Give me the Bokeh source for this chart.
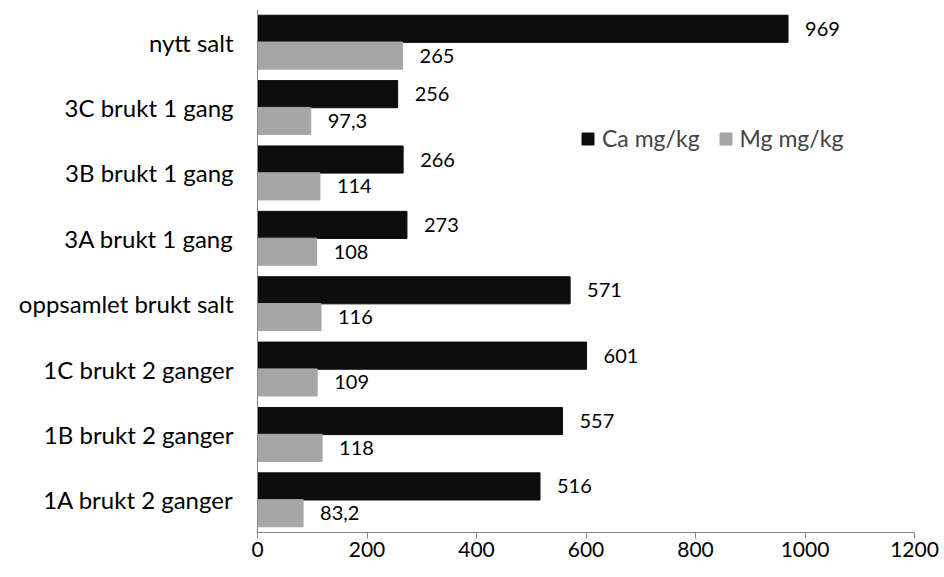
from bokeh.plotting import figure
from bokeh.models import ColumnDataSource, FactorRange, Legend, LegendItem, FixedTicker
from bokeh.transform import dodge
from bokeh.core.properties import value
from bokeh.embed import file_html
from bokeh.resources import INLINE

categories = ["1A brukt 2 ganger", "1B brukt 2 ganger", "1C brukt 2 ganger",
              "oppsamlet brukt salt", "3A brukt 1 gang", "3B brukt 1 gang",
              "3C brukt 1 gang", "nytt salt"]
ca = [516, 557, 601, 571, 273, 266, 256, 969]
mg = [83.2, 118, 109, 116, 108, 114, 97.3, 265]
x_ticks = [0, 200, 400, 600, 800, 1000, 1200]

def fmt(v):
    return f"{v:g}".replace(".", ",")

src = ColumnDataSource(dict(cat=categories, ca=ca, mg=mg,
                            ca_lbl=[fmt(v) for v in ca],
                            mg_lbl=[fmt(v) for v in mg]))

FONT = "Lato"
p = figure(width=940, height=570, y_range=FactorRange(factors=categories),
           x_range=(0, 1200), output_backend="svg", toolbar_location=None,
           min_border_left=257, min_border_right=26, min_border_top=9,
           min_border_bottom=38)
p.outline_line_color = None
p.xgrid.visible = False
p.ygrid.visible = False

CA_COL = "#0d0d0d"
MG_COL = "#a6a6a6"
H = 0.415
r_ca = p.hbar(y=dodge("cat", 0.205, range=p.y_range), left=0, right="ca",
              height=H, color=CA_COL, source=src)
r_mg = p.hbar(y=dodge("cat", -0.205, range=p.y_range), left=0, right="mg",
              height=H, color=MG_COL, source=src)

p.text(x="ca", y=dodge("cat", 0.205, range=p.y_range), text="ca_lbl",
       x_offset=17, text_baseline="middle", text_font=value(FONT),
       text_font_size="20px", text_color="#000000", source=src)
p.text(x="mg", y=dodge("cat", -0.205, range=p.y_range), text="mg_lbl",
       x_offset=17, text_baseline="middle", text_font=value(FONT),
       text_font_size="20px", text_color="#000000", source=src)

p.xaxis.ticker = FixedTicker(ticks=x_ticks)
p.xaxis.axis_line_color = "#868686"
p.xaxis.major_tick_line_color = "#868686"
p.xaxis.major_tick_out = 6
p.xaxis.major_tick_in = 0
p.xaxis.minor_tick_line_color = None
p.xaxis.major_label_standoff = 3
p.xaxis.major_label_text_font = FONT
p.xaxis.major_label_text_font_size = "21px"
p.xaxis.major_label_text_color = "#000000"

p.yaxis.axis_line_color = "#868686"
p.yaxis.major_tick_line_color = None
p.yaxis.minor_tick_line_color = None
p.yaxis.major_tick_out = 0
p.yaxis.major_label_standoff = 24
p.yaxis.major_label_text_font = FONT
p.yaxis.major_label_text_font_size = "24px"
p.yaxis.major_label_text_color = "#000000"

legend = Legend(items=[LegendItem(label="Ca mg/kg", renderers=[r_ca]),
                       LegendItem(label="Mg mg/kg", renderers=[r_mg])],
                orientation="horizontal", location=(323, 380),
                glyph_width=15, glyph_height=15, label_text_font=FONT,
                label_text_font_size="23px", label_standoff=7, spacing=18,
                padding=0, margin=0, border_line_color=None,
                background_fill_alpha=0)
p.add_layout(legend, "center")

open("out.html", "w").write(file_html(p, INLINE))
